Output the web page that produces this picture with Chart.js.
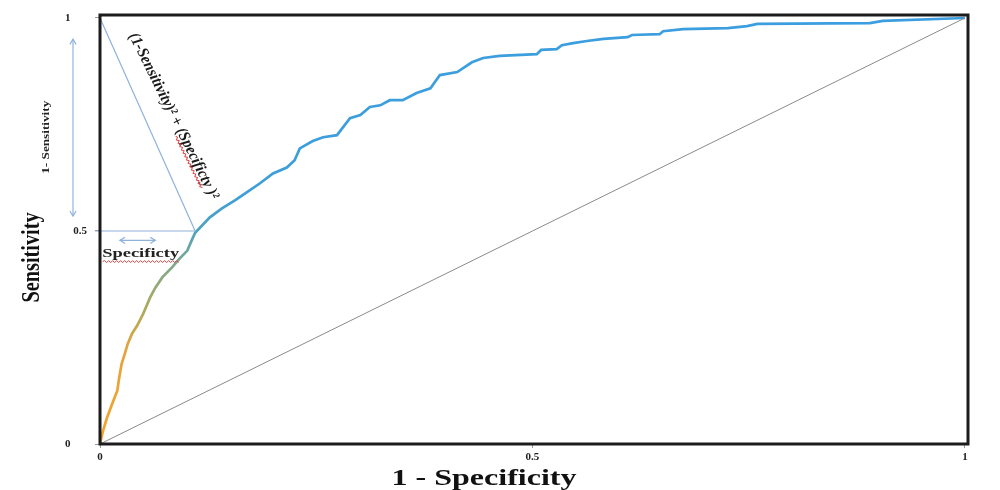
<!DOCTYPE html>
<html>
<head>
<meta charset="utf-8">
<script src="https://cdn.jsdelivr.net/npm/chart.js@4.4.1/dist/chart.umd.min.js"></script>
<style>
  body { margin: 0; background: #fff; }
  canvas { display: block; }
</style>
</head>
<body>
<canvas id="roc" width="1000" height="490"></canvas>
<script>
// ROC curve (1 - specificity, sensitivity)
var fpr = [0, 0.0035, 0.008, 0.014, 0.020, 0.022, 0.025, 0.029, 0.032, 0.037,
  0.043, 0.050, 0.054, 0.058, 0.064, 0.072, 0.083, 0.092, 0.101, 0.106,
  0.110, 0.118, 0.127, 0.141, 0.156, 0.170, 0.185, 0.200, 0.216, 0.225,
  0.231, 0.246, 0.258, 0.274, 0.289, 0.301, 0.312, 0.324, 0.335, 0.350,
  0.366, 0.382, 0.393, 0.413, 0.430, 0.443, 0.462, 0.505, 0.510, 0.528,
  0.534, 0.547, 0.563, 0.582, 0.610, 0.615, 0.647, 0.651, 0.674, 0.726,
  0.748, 0.760, 0.890, 0.905, 1.0];
var tpr = [0, 0.031, 0.061, 0.094, 0.125, 0.153, 0.188, 0.214, 0.235, 0.259,
  0.278, 0.306, 0.325, 0.344, 0.367, 0.391, 0.414, 0.435, 0.454, 0.478,
  0.496, 0.513, 0.532, 0.553, 0.572, 0.591, 0.612, 0.635, 0.649, 0.666,
  0.694, 0.711, 0.720, 0.725, 0.765, 0.772, 0.791, 0.795, 0.807, 0.807,
  0.824, 0.835, 0.866, 0.873, 0.896, 0.906, 0.911, 0.915, 0.925, 0.927,
  0.936, 0.941, 0.946, 0.951, 0.955, 0.960, 0.962, 0.969, 0.974, 0.976,
  0.981, 0.986, 0.988, 0.993, 1.0];

var chanceX = [0, 1];
var chanceY = [0, 1];

// the point of the curve that the construction lines go to
var cutX = 0.11;
var cutY = 0.5;

var tickValues = [0, 0.5, 1];

var xTitle = '1 - Specificity';
var yTitle = 'Sensitivity';
var distLabel = '(1-Sensitivity)\u00b2 + (Specificty )\u00b2';
var specLabel = 'Specificty';
var sensLabel = '1- Sensitivity';

function pts(xs, ys) {
  return xs.map(function (x, i) { return { x: x, y: ys[i] }; });
}

var serif = '"Liberation Serif", "DejaVu Serif", serif';
var annoBlue = '#8fb2dc';

function rocColor(context) {
  var chart = context.chart;
  var area = chart.chartArea;
  if (!area) return '#3b9ee0';
  var g = chart.ctx.createLinearGradient(0, area.bottom, 0, area.top);
  g.addColorStop(0, '#f5a32a');
  g.addColorStop(0.22, '#e3a43c');
  g.addColorStop(0.32, '#a9aa5e');
  g.addColorStop(0.42, '#7fa88c');
  g.addColorStop(0.5, '#4ea2c0');
  g.addColorStop(0.58, '#3d9ed8');
  g.addColorStop(1, '#3b9ee0');
  return g;
}

// draw text squeezed/stretched along its own direction to a given length
function fitText(ctx, text, x, y, angle, font, len, color) {
  ctx.save();
  ctx.font = font;
  var w = ctx.measureText(text).width;
  ctx.translate(x, y);
  ctx.rotate(angle);
  ctx.scale(len / w, 1);
  ctx.textAlign = 'center';
  ctx.textBaseline = 'middle';
  ctx.fillStyle = color;
  ctx.fillText(text, 0, 0);
  ctx.restore();
}

function wavy(ctx, x1, x2, y) {
  ctx.beginPath();
  ctx.moveTo(x1, y);
  var up = true;
  for (var x = x1 + 2; x <= x2; x += 2) {
    ctx.lineTo(x, up ? y - 1 : y + 1);
    up = !up;
  }
  ctx.stroke();
}

function head(ctx, x, y, ang) {
  var s = 6;
  ctx.beginPath();
  ctx.moveTo(x + s * Math.cos(ang + 2.6), y + s * Math.sin(ang + 2.6));
  ctx.lineTo(x, y);
  ctx.lineTo(x + s * Math.cos(ang - 2.6), y + s * Math.sin(ang - 2.6));
  ctx.stroke();
}

function dblArrow(ctx, x1, y1, x2, y2) {
  var ang = Math.atan2(y2 - y1, x2 - x1);
  ctx.beginPath();
  ctx.moveTo(x1, y1);
  ctx.lineTo(x2, y2);
  ctx.stroke();
  head(ctx, x2, y2, ang);
  head(ctx, x1, y1, ang + Math.PI);
}

var annotations = {
  id: 'annotations',
  afterDraw: function (chart) {
    var ctx = chart.ctx;
    var a = chart.chartArea;
    var sx = chart.scales.x;
    var sy = chart.scales.y;

    // frame
    ctx.save();
    ctx.strokeStyle = '#1c1c1c';
    ctx.lineWidth = 3;
    ctx.strokeRect(a.left, a.top, a.right - a.left, a.bottom - a.top);
    ctx.restore();

    // arrows
    ctx.save();
    ctx.strokeStyle = annoBlue;
    ctx.lineWidth = 1.2;
    dblArrow(ctx, a.left - 27, sy.getPixelForValue(0.95), a.left - 27, sy.getPixelForValue(0.535));
    dblArrow(ctx, sx.getPixelForValue(0.023), sy.getPixelForValue(0.478),
      sx.getPixelForValue(0.064), sy.getPixelForValue(0.478));
    ctx.restore();

    // axis titles
    fitText(ctx, xTitle, sx.getPixelForValue(0.444), 479, 0, 'bold 24px ' + serif, 185, '#111');
    fitText(ctx, yTitle, 33, sy.getPixelForValue(0.438), -Math.PI / 2, 'bold 25px ' + serif, 90, '#111');
    fitText(ctx, sensLabel, 46, sy.getPixelForValue(0.72), -Math.PI / 2, 'bold 11px ' + serif, 73, '#222');

    // "Specificty" under the horizontal arrow
    var spx = sx.getPixelForValue(0.047);
    var spy = sy.getPixelForValue(0.447);
    fitText(ctx, specLabel, spx, spy, 0, 'bold 13px ' + serif, 77, '#222');
    ctx.save();
    ctx.strokeStyle = '#e04040';
    ctx.lineWidth = 1;
    wavy(ctx, spx - 38, spx + 38, spy + 8);
    ctx.restore();

    // distance formula along the slanted line
    var ang = Math.atan2(165, 82);
    var cx = sx.getPixelForValue(0.085);
    var cy = sy.getPixelForValue(0.77);
    var len = 184;
    ctx.save();
    ctx.font = 'italic bold 16px ' + serif;
    var w = ctx.measureText(distLabel).width;
    var pre = ctx.measureText('(1-Sensitivity)\u00b2 + (').width;
    var sub = ctx.measureText(specLabel).width;
    ctx.translate(cx, cy);
    ctx.rotate(ang);
    ctx.scale(len / w, 1);
    ctx.textAlign = 'left';
    ctx.textBaseline = 'middle';
    ctx.fillStyle = '#1a1a1a';
    ctx.fillText(distLabel, -w / 2, 0);
    ctx.strokeStyle = '#e04040';
    ctx.lineWidth = 1;
    wavy(ctx, -w / 2 + pre, -w / 2 + pre + sub, 7);
    ctx.restore();
  }
};

new Chart(document.getElementById('roc'), {
  type: 'scatter',
  data: {
    datasets: [
      {
        label: 'Chance',
        data: pts(chanceX, chanceY),
        showLine: true,
        borderColor: '#8a8a8a',
        borderWidth: 1,
        pointRadius: 0
      },
      {
        label: 'Sensitivity gap',
        data: [{ x: 0, y: 1 }, { x: cutX, y: cutY }],
        showLine: true,
        borderColor: annoBlue,
        borderWidth: 1.2,
        pointRadius: 0
      },
      {
        label: 'Specificity gap',
        data: [{ x: -0.006, y: cutY }, { x: cutX, y: cutY }],
        showLine: true,
        borderColor: annoBlue,
        borderWidth: 1.2,
        pointRadius: 0,
        clip: 8
      },
      {
        label: 'ROC',
        data: pts(fpr, tpr),
        showLine: true,
        borderColor: rocColor,
        borderWidth: 2.7,
        pointRadius: 0,
        tension: 0
      }
    ]
  },
  options: {
    responsive: false,
    animation: false,
    layout: { padding: { top: 15, right: 32, left: 0, bottom: 0 } },
    plugins: {
      legend: { display: false },
      tooltip: { enabled: false }
    },
    scales: {
      x: {
        type: 'linear',
        min: 0,
        max: 1.0035,
        afterBuildTicks: function (s) { s.ticks = tickValues.map(function (v) { return { value: v }; }); },
        afterFit: function (s) { s.height = 46; },
        border: { display: false },
        grid: { drawOnChartArea: false, drawTicks: true, tickLength: 4, color: '#999' },
        ticks: {
          padding: 3,
          color: '#222',
          font: { family: serif, size: 11, weight: 'bold' },
          callback: function (v) { return String(v); }
        }
      },
      y: {
        type: 'linear',
        min: 0,
        max: 1.007,
        afterBuildTicks: function (s) { s.ticks = tickValues.map(function (v) { return { value: v }; }); },
        afterFit: function (s) { s.width = 100; },
        border: { display: false },
        grid: { drawOnChartArea: false, drawTicks: true, tickLength: 5, color: '#999' },
        ticks: {
          padding: 8,
          color: '#222',
          font: { family: serif, size: 11, weight: 'bold' },
          callback: function (v) { return v === 0.5 ? '0.5' : String(v) + '\u2002\u2002\u2002'; }
        }
      }
    }
  },
  plugins: [annotations]
});
</script>
</body>
</html>
